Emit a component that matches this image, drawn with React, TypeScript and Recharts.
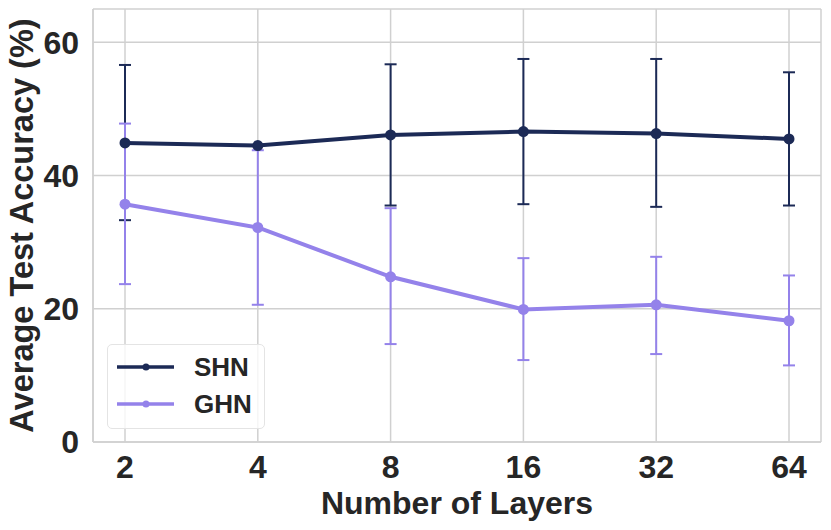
import React from 'react';
import { LineChart, Line, XAxis, YAxis, CartesianGrid, ErrorBar } from 'recharts';

const layers = ['2', '4', '8', '16', '32', '64'];
const shnMean = [44.9, 44.5, 46.1, 46.6, 46.3, 45.5];
const shnLow: (number | null)[] = [33.3, null, 35.5, 35.7, 35.3, 35.5];
const shnHigh: (number | null)[] = [56.6, null, 56.7, 57.5, 57.5, 55.5];
const ghnMean = [35.7, 32.2, 24.8, 19.9, 20.6, 18.2];
const ghnLow = [23.7, 20.6, 14.7, 12.3, 13.2, 11.5];
const ghnHigh = [47.8, 43.8, 35.1, 27.6, 27.8, 25.0];
const yTicks = [0, 20, 40, 60];

const SHN_COLOR = '#1c2a56';
const GHN_COLOR = '#9482ea';
const GRID = '#d0d0d0';
const TEXT = '#262626';
const FONT = '"Liberation Sans", Arial, Helvetica, sans-serif';

const series = [
  { key: 'shn', name: 'SHN', color: SHN_COLOR },
  { key: 'ghn', name: 'GHN', color: GHN_COLOR },
];

const data = layers.map((l, i) => ({
  layer: l,
  shn: shnMean[i],
  shnErr:
    shnLow[i] == null || shnHigh[i] == null
      ? null
      : [shnMean[i] - (shnLow[i] as number), (shnHigh[i] as number) - shnMean[i]],
  ghn: ghnMean[i],
  ghnErr: [ghnMean[i] - ghnLow[i], ghnHigh[i] - ghnMean[i]],
}));

const tickStyle = { fontFamily: FONT, fontWeight: 700, fontSize: 32, fill: TEXT };

export default function App() {
  return (
    <div style={{ position: 'absolute', left: 0, top: 0, width: 831, height: 530, background: '#fff' }}>
      <LineChart
        width={831}
        height={530}
        data={data}
        margin={{ top: 9, right: 10, left: 0, bottom: 0 }}
      >
        <CartesianGrid stroke={GRID} strokeWidth={1.5} />
        <XAxis
          dataKey="layer"
          scale="point"
          padding={{ left: 32, right: 32 }}
          height={88}
          tickSize={0}
          tickMargin={13}
          tickLine={false}
          axisLine={{ stroke: GRID, strokeWidth: 1.5 }}
          tick={tickStyle}
          label={{
            value: 'Number of Layers',
            position: 'insideBottom',
            offset: 16,
            style: { fontFamily: FONT, fontWeight: 700, fontSize: 32, fill: TEXT },
          }}
        />
        <XAxis
          xAxisId="top"
          dataKey="layer"
          orientation="top"
          scale="point"
          padding={{ left: 32, right: 32 }}
          height={0}
          tick={false}
          tickLine={false}
          axisLine={{ stroke: GRID, strokeWidth: 1.5 }}
        />
        <YAxis
          domain={[0, 65]}
          ticks={yTicks}
          width={93}
          tickSize={0}
          tickMargin={14}
          tickLine={false}
          axisLine={{ stroke: GRID, strokeWidth: 1.5 }}
          tick={tickStyle}
          label={{
            value: 'Average Test Accuracy (%)',
            angle: -90,
            position: 'insideLeft',
            offset: 21,
            style: { textAnchor: 'middle', fontFamily: FONT, fontWeight: 700, fontSize: 32.5, fill: TEXT },
          }}
        />
        <YAxis
          yAxisId="right"
          orientation="right"
          domain={[0, 65]}
          width={0}
          tick={false}
          tickLine={false}
          axisLine={{ stroke: GRID, strokeWidth: 1.5 }}
        />
        <Line
          dataKey="shn"
          name="SHN"
          stroke={SHN_COLOR}
          strokeWidth={4}
          dot={{ r: 5.5, fill: SHN_COLOR, stroke: SHN_COLOR, strokeWidth: 0 }}
          activeDot={false}
          isAnimationActive={false}
        >
          <ErrorBar dataKey="shnErr" direction="y" width={6} stroke={SHN_COLOR} strokeWidth={2} />
        </Line>
        <Line
          dataKey="ghn"
          name="GHN"
          stroke={GHN_COLOR}
          strokeWidth={4}
          dot={{ r: 5.5, fill: GHN_COLOR, stroke: GHN_COLOR, strokeWidth: 0 }}
          activeDot={false}
          isAnimationActive={false}
        >
          <ErrorBar dataKey="ghnErr" direction="y" width={6} stroke={GHN_COLOR} strokeWidth={2} />
        </Line>
      </LineChart>
      <div
        style={{
          position: 'absolute',
          left: 107,
          top: 344,
          width: 158,
          height: 85,
          boxSizing: 'border-box',
          border: '1px solid #e4e4e4',
          borderRadius: 5,
          background: 'rgba(255,255,255,0.8)',
          fontFamily: FONT,
          fontWeight: 700,
          fontSize: 26,
          color: TEXT,
        }}
      >
        {series.map((s, i) => (
          <div
            key={s.key}
            style={{ position: 'absolute', left: 0, top: i === 0 ? 4 : 41, height: 36, display: 'flex', alignItems: 'center' }}
          >
            <svg width={80} height={36} style={{ display: 'block' }}>
              <line x1={9} x2={66} y1={18} y2={18} stroke={s.color} strokeWidth={3.5} />
              <circle cx={38} cy={18} r={3.5} fill={s.color} />
            </svg>
            <span style={{ marginLeft: 6, lineHeight: '36px' }}>{s.name}</span>
          </div>
        ))}
      </div>
    </div>
  );
}
